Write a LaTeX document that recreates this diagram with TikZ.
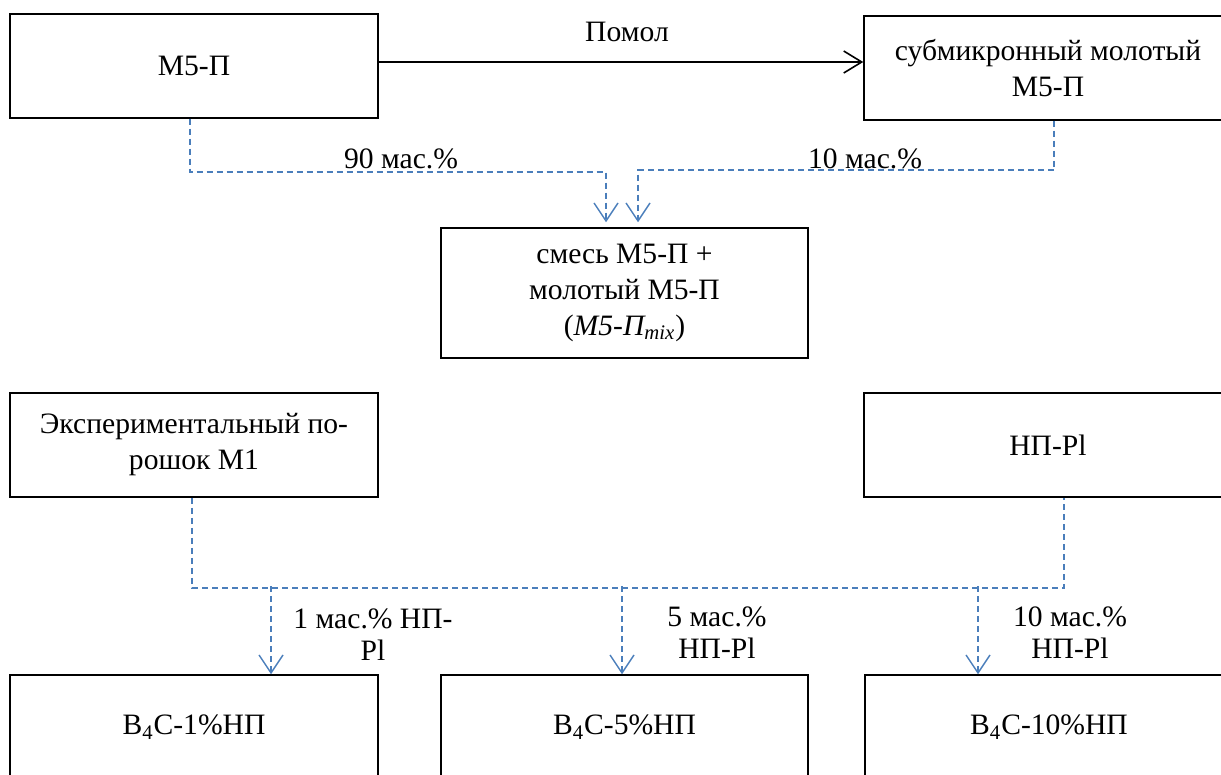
\documentclass[tikz,border=0pt]{standalone}
\usepackage{fontspec}
\setmainfont{Liberation Serif}
\usetikzlibrary{arrows.meta,calc}
\definecolor{flowblue}{HTML}{4A7EBB}
\begin{document}
\begin{tikzpicture}[x=0.5pt,y=-0.5pt,
  box/.style={draw,line width=0.75pt,minimum width=184pt,minimum height=52pt,inner sep=0pt,align=center,font=\fontsize{14.8}{18}\selectfont},
  lbl/.style={align=center,inner sep=0pt,font=\fontsize{14.8}{16}\selectfont},
  flowline/.style={draw=flowblue,line width=1pt,dash pattern=on 3pt off 2pt},
  flow/.style={flowline,-{Straight Barb[length=9pt,width=12pt,line width=0.7pt]}},
  solidarrow/.style={draw,line width=1pt,-{Straight Barb[length=9pt,width=11pt,line width=0.8pt]}}]
\clip (0,0) rectangle (1221,775);
\fill[white] (0,0) rectangle (1221,775);
% boxes
\node[box] (m5p) at (194,66) {M5-П};
\node[box] (sub) at (1048,68) {субмикронный молотый\\M5-П};
\node[box,minimum width=183.5pt,minimum height=65pt] (mix) at (624.5,293) {смесь M5-П +\\молотый M5-П\\(\textit{M5-П\textsubscript{mix}})};
\node[box] (exp) at (194,445) {Экспериментальный по-\\рошок M1};
\node[box] (np) at (1048,445) {НП-Pl};
\node[box] (b1) at (194,727) {B\textsubscript{4}C-1\%НП};
\node[box,minimum width=183.5pt] (b5) at (624.5,727) {B\textsubscript{4}C-5\%НП};
\node[box] (b10) at (1049,727) {B\textsubscript{4}C-10\%НП};
% top arrow
\coordinate (p1) at ($(m5p.east)+(0,-4)$);
\draw[solidarrow] (p1) -- (p1 -| sub.west);
\node[lbl] (lpom) at (627,32) {Помол};
% mixing
\draw[flow] ($(m5p.south)+(-4,0)$) |- ($(mix.north)+(-18.5,-55)$) -- ($(mix.north)+(-18.5,-5)$);
\draw[flow] ($(sub.south)+(6,0)$) |- ($(mix.north)+(13.5,-57)$) -- ($(mix.north)+(13.5,-5)$);
\node[lbl] (l90) at (401,159) {90 мас.\%};
\node[lbl] (l10) at (865,159) {10 мас.\%};
% lower
\draw[flowline] ($(exp.south)+(-2,0)$) |- ($(np.south)+(16,90)$) -- ($(np.south)+(16,0)$);
\draw[flow] ($(b1.north)+(77,-88)$) -- ($(b1.north)+(77,0)$);
\draw[flow] ($(b5.north)+(-2.5,-88)$) -- ($(b5.north)+(-2.5,0)$);
\draw[flow] ($(b10.north)+(-71,-88)$) -- ($(b10.north)+(-71,0)$);
\node[lbl] (lb1) at (373,635) {1 мас.\% НП-\\Pl};
\node[lbl] (lb5) at (717,633) {5 мас.\%\\НП-Pl};
\node[lbl] (lb10) at (1070,633) {10 мас.\%\\НП-Pl};
\end{tikzpicture}
\end{document}
